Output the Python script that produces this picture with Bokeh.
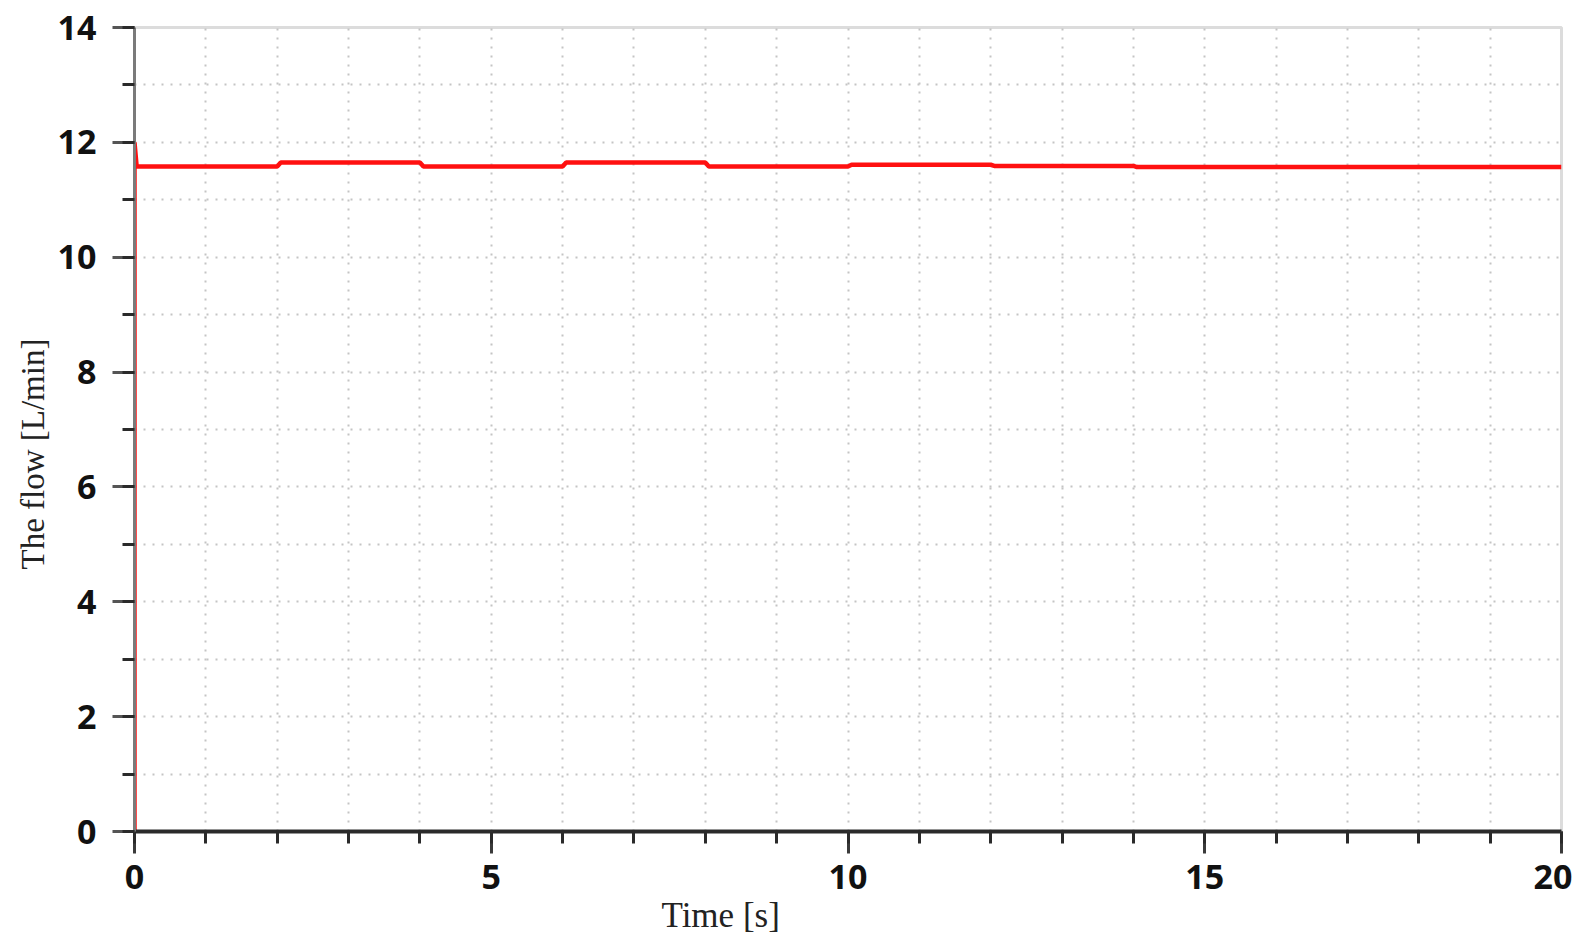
from bokeh.plotting import figure
from bokeh.models import Range1d, SingleIntervalTicker, FixedTicker, Title
from bokeh.embed import file_html
from bokeh.resources import INLINE

# data
time_s = [0.0, 0.0, 0.03, 2.0, 2.05, 4.0, 4.05, 6.0, 6.05, 8.0, 8.05, 10.0, 10.05, 12.0, 12.05, 14.0, 14.05, 20.0]
flow_lpm = [0.0, 12.0, 11.58, 11.58, 11.65, 11.65, 11.58, 11.58, 11.65, 11.65, 11.58, 11.58, 11.61, 11.61, 11.59, 11.59, 11.57, 11.57]

x_label = "Time [s]"
y_label = "The flow  [L/min]"

p = figure(width=1572, height=940, output_backend="svg", toolbar_location=None,
           x_range=Range1d(0, 20), y_range=Range1d(0, 14),
           min_border_left=134, min_border_right=11, min_border_top=27, min_border_bottom=109)
p.background_fill_color = "white"
p.border_fill_color = "white"
p.outline_line_color = "#dcdcdc"
p.outline_line_width = 3

# grids at every unit
p.xgrid.ticker = FixedTicker(ticks=list(range(0, 21)))
p.ygrid.ticker = FixedTicker(ticks=list(range(0, 15)))
for g in (p.xgrid, p.ygrid):
    g.grid_line_color = "#c4c4c4"
    g.grid_line_dash = "2 7"
    g.grid_line_width = 2

xa = p.xaxis[0]
ya = p.yaxis[0]
xa.ticker = SingleIntervalTicker(interval=5, num_minor_ticks=5)
ya.ticker = SingleIntervalTicker(interval=2, num_minor_ticks=2)

for ax in (xa, ya):
    ax.major_tick_out = 22
    ax.major_tick_in = 0
    ax.minor_tick_out = 12
    ax.minor_tick_in = 0
    ax.major_tick_line_width = 3
    ax.minor_tick_line_width = 3
    ax.major_tick_line_color = "#3a3a3a"
    ax.minor_tick_line_color = "#2a2a2a"
    ax.major_label_text_font = "Open Sans"
    ax.major_label_text_font_style = "bold"
    ax.major_label_text_font_size = "34px"
    ax.major_label_text_color = "#111111"

xa.axis_line_color = "#2a2a2a"
xa.axis_line_width = 4
xa.major_label_standoff = 11
ya.axis_line_color = "#7a7a7a"
ya.axis_line_width = 3
ya.major_label_standoff = 16
ya.major_tick_line_color = "#555555"

p.line(time_s, flow_lpm, line_color="#ff1010", line_width=4.5)

p.add_layout(Title(text=x_label, align="left", offset=527, standoff=5,
                   text_font="Liberation Serif", text_font_style="normal",
                   text_font_size="35px", text_color="#222222"), "below")
p.add_layout(Title(text=y_label, align="left", offset=262, standoff=7,
                   text_font="Liberation Serif", text_font_style="normal",
                   text_font_size="33px", text_color="#222222"), "left")

open("out.html", "w").write(file_html(p, INLINE))
